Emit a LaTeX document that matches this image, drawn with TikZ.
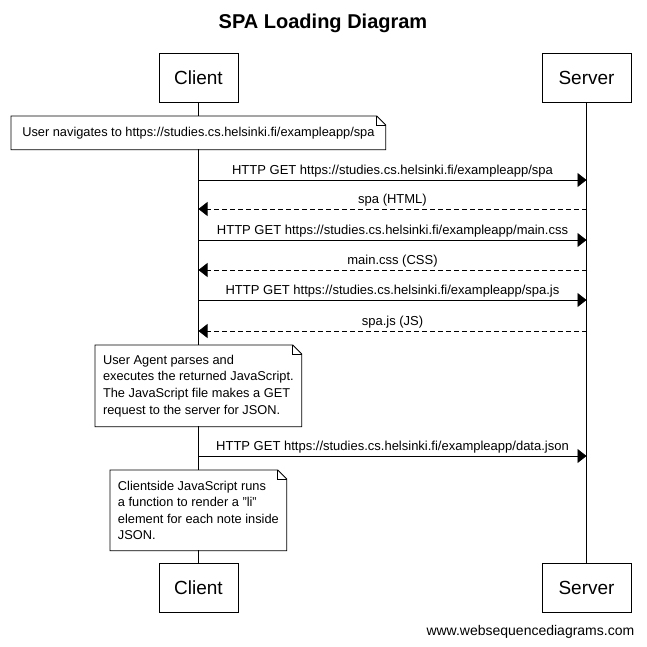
\documentclass[tikz,border=0pt]{standalone}
\usepackage{fontspec}
\setmainfont{Liberation Sans}
\usetikzlibrary{arrows.meta}
\usetikzlibrary{positioning}

% outline of a note with a folded corner
\newcommand{\notefold}[1]{%
  \draw (#1.south west) -- (#1.north west) -- ([xshift=-9pt]#1.north east)
    -- ([yshift=-9pt]#1.north east) -- (#1.south east) -- cycle;
  \draw ([xshift=-9pt]#1.north east) |- ([yshift=-9pt]#1.north east);}

\begin{document}
\begin{tikzpicture}[x=1pt, y=-1pt, line width=0.8pt,
		actor/.style = {
			draw, fill=white, minimum height=49pt, font=\fontsize{19}{23}\selectfont
		},
		msg/.style = {-{Triangle[length=9pt,width=14pt]}},
		reply/.style = {msg, dash pattern=on 5pt off 3pt},
		lbl/.style = {above, inner sep=2pt, font=\fontsize{13}{16}\selectfont},
		notebox/.style = {
			fill=white, anchor=north west, inner sep=6pt, align=left,
			font=\fontsize{12.8}{16.6}\selectfont
		}]
		\useasboundingbox (0,0) rectangle (646,647);
		\node (title) at (323,23) {\bfseries\fontsize{20}{24}\selectfont SPA Loading Diagram};
		\node (client) [actor, minimum width=79pt] at (198.5,77.5) {Client};
		\node (server) [actor, minimum width=89pt] at (586.5,77.5) {Server};
		\node (client') [actor, minimum width=79pt] at (198.5,587.5) {Client};
		\node (server') [actor, minimum width=89pt] at (586.5,587.5) {Server};
		\draw (client) -- (client');
		\draw (server) -- (server');
		\foreach \i/\y in {1/180,2/209,3/240,4/270,5/300,6/331,7/456} {
			\coordinate (c\i) at (198.5,\y);
			\coordinate (s\i) at (586.5,\y);
		}
		\node (nav) [notebox, minimum width=374pt, minimum height=33pt] at (11,116)
			{User navigates to https://studies.cs.helsinki.fi/exampleapp/spa};
		\notefold{nav}
		\path
		(c1) edge[msg] node[lbl] {HTTP GET https://studies.cs.helsinki.fi/exampleapp/spa} (s1)
		(s2) edge[reply] node[lbl] {spa (HTML)} (c2)
		(c3) edge[msg] node[lbl] {HTTP GET https://studies.cs.helsinki.fi/exampleapp/main.css} (s3)
		(s4) edge[reply] node[lbl] {main.css (CSS)} (c4)
		(c5) edge[msg] node[lbl] {HTTP GET https://studies.cs.helsinki.fi/exampleapp/spa.js} (s5)
		(s6) edge[reply] node[lbl] {spa.js (JS)} (c6)
		(c7) edge[msg] node[lbl] {HTTP GET https://studies.cs.helsinki.fi/exampleapp/data.json} (s7);
		\node (parse) [notebox, minimum width=206pt, minimum height=81pt] at (95,345)
			{User Agent parses and\\executes the returned JavaScript.\\The JavaScript file makes a GET\\request to the server for JSON.};
		\notefold{parse}
		\node (render) [notebox, minimum width=176pt, minimum height=80pt] at (110,470)
			{Clientside JavaScript runs\\a function to render a \char34li\char34\\element for each note inside\\JSON.};
		\notefold{render}
		\node (site) [anchor=east, font=\fontsize{14}{17}\selectfont] at (638,632) {www.websequencediagrams.com};
	\end{tikzpicture}
\end{document}
